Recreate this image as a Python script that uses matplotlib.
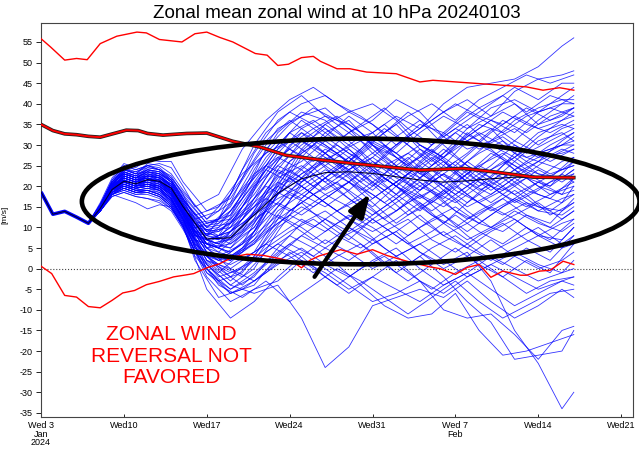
import matplotlib
matplotlib.use('Agg')
import matplotlib.pyplot as plt
from matplotlib.patches import Ellipse

plt.rcParams['font.family'] = ['Liberation Sans', 'DejaVu Sans']

# days since Wed 3 Jan 2024
tick_days = [0, 7, 14, 21, 28, 35, 42, 49]
tick_labels = ['Wed 3\nJan\n2024', 'Wed10', 'Wed17', 'Wed24', 'Wed31',
               'Wed 7\nFeb', 'Wed14', 'Wed21']
y_ticks = list(range(-35, 60, 5))

# analysis part shared by all members
start_days = [0, 1, 2, 3, 4]
start_wind = [18.6, 13.2, 13.9, 12.5, 11.0]

# members read on even days after day 12
member_days = [5, 6, 7, 8, 9, 10, 11, 12, 14, 16, 18, 20, 22, 24, 26, 28,
               30, 32, 34, 36, 38, 40, 42, 44, 45]

members = [
    [15.0, 20.5, 23.0, 22.0, 24.0, 23.5, 21.0, 16.0, 9, 13, 24, 33, 38, 36, 31, 33, 37, 34, 40, 44, 45, 46, 49, 54, 56],
    [14.5, 19.0, 21.0, 20.0, 21.5, 21.0, 19.0, 14.0, 8, 16, 28, 36, 40, 42, 38, 35, 30, 34, 38, 41, 37, 43, 46, 47, 48],
    [15.5, 21.0, 24.5, 23.0, 25.5, 25.0, 23.0, 19.0, 12, 18, 30, 38, 42, 37, 33, 36, 41, 38, 32, 36, 40, 44, 41, 45, 45],
    [14.0, 18.5, 20.0, 19.5, 20.0, 19.5, 17.0, 12.0, 6, 10, 20, 28, 34, 37, 35, 31, 28, 33, 37, 34, 39, 41, 38, 42, 44],
    [15.0, 20.0, 22.5, 21.5, 23.0, 22.0, 20.0, 15.0, 7, 5, 12, 24, 31, 35, 38, 40, 36, 30, 27, 32, 36, 33, 38, 40, 42],
    [14.5, 19.5, 22.0, 21.0, 22.5, 22.5, 20.5, 16.5, 10, 14, 22, 30, 36, 32, 28, 25, 30, 35, 33, 29, 31, 36, 39, 41, 41],
    [16.0, 22.0, 25.5, 24.5, 26.5, 26.0, 26.0, 21.0, 14, 17, 26, 34, 37, 39, 34, 28, 24, 27, 33, 38, 35, 31, 36, 40, 40],
    [14.0, 18.0, 19.5, 18.5, 19.0, 18.0, 16.0, 11.0, 3, 2, 8, 18, 27, 33, 36, 30, 25, 22, 28, 34, 37, 40, 35, 37, 39],
    [15.0, 20.5, 23.5, 22.5, 24.5, 24.0, 22.5, 18.0, 11, 12, 18, 26, 33, 30, 26, 31, 35, 29, 24, 28, 33, 37, 34, 36, 38],
    [14.5, 19.0, 21.5, 20.5, 21.0, 20.5, 18.0, 13.0, 5, 8, 16, 25, 30, 34, 29, 24, 20, 26, 31, 35, 30, 27, 32, 36, 37],
    [15.5, 21.0, 24.0, 23.5, 25.0, 24.0, 21.5, 17.0, 9, 6, 10, 19, 28, 32, 37, 33, 27, 23, 20, 26, 31, 34, 30, 34, 35],
    [14.0, 18.5, 21.0, 20.0, 21.5, 21.5, 19.5, 15.5, 8, 11, 19, 27, 31, 28, 24, 27, 32, 36, 30, 25, 22, 28, 33, 35, 34],
    [15.0, 20.0, 22.0, 21.0, 22.0, 21.0, 19.0, 14.5, 6, 4, 9, 20, 29, 35, 31, 26, 22, 19, 25, 31, 34, 28, 26, 31, 33],
    [14.5, 19.5, 23.0, 22.0, 23.5, 23.0, 21.0, 17.0, 10, 15, 25, 31, 27, 22, 26, 32, 28, 23, 27, 33, 29, 24, 27, 30, 32],
    [15.0, 21.0, 24.0, 23.0, 24.0, 23.0, 20.0, 15.0, 7, 9, 15, 23, 26, 31, 27, 22, 18, 24, 29, 25, 21, 26, 31, 33, 31],
    [14.0, 18.0, 20.5, 19.5, 20.5, 20.0, 18.0, 13.5, 4, 3, 7, 15, 22, 28, 33, 29, 24, 20, 17, 22, 27, 31, 28, 30, 30],
    [15.5, 20.5, 23.5, 22.5, 24.0, 23.5, 21.5, 17.5, 11, 13, 21, 29, 33, 28, 23, 19, 24, 29, 26, 21, 25, 30, 27, 28, 29],
    [14.5, 19.0, 21.0, 20.0, 20.5, 19.5, 17.0, 12.5, 3, -2, 3, 12, 21, 27, 24, 20, 26, 30, 27, 23, 19, 23, 26, 29, 28],
    [15.0, 20.0, 22.5, 21.5, 23.0, 22.5, 20.5, 16.0, 8, 7, 14, 22, 25, 21, 25, 30, 27, 22, 18, 23, 28, 25, 22, 26, 27],
    [14.5, 19.5, 22.0, 21.0, 22.0, 21.5, 19.0, 14.0, 5, 6, 11, 19, 24, 29, 26, 21, 17, 22, 26, 21, 18, 22, 26, 24, 26],
    [15.0, 20.5, 23.0, 22.0, 23.5, 22.5, 20.0, 15.5, 9, 10, 17, 24, 21, 25, 29, 24, 20, 17, 21, 26, 22, 18, 21, 24, 25],
    [14.0, 18.5, 20.0, 19.0, 19.5, 19.0, 16.5, 12.0, 2, 0, 4, 13, 20, 24, 21, 26, 23, 18, 15, 19, 24, 27, 23, 22, 24],
    [15.5, 21.5, 25.0, 24.0, 25.0, 24.5, 22.0, 18.5, 12, 16, 23, 27, 24, 19, 23, 27, 23, 19, 23, 20, 16, 20, 24, 21, 23],
    [14.5, 19.0, 21.5, 20.5, 21.5, 21.0, 19.0, 14.0, 6, 5, 10, 18, 23, 26, 22, 17, 21, 25, 20, 16, 20, 24, 20, 18, 22],
    [15.0, 20.0, 22.0, 21.0, 22.5, 22.0, 20.0, 15.0, 7, 8, 13, 20, 17, 22, 27, 23, 18, 14, 19, 24, 20, 16, 19, 23, 21],
    [14.0, 18.0, 19.0, 18.0, 18.5, 17.5, 15.0, 10.5, 1, -4, 0, 9, 17, 22, 19, 15, 20, 24, 19, 15, 18, 22, 18, 16, 20],
    [15.0, 20.5, 23.5, 22.5, 23.0, 22.0, 19.5, 15.0, 8, 12, 20, 25, 22, 18, 21, 18, 14, 19, 23, 18, 14, 17, 21, 18, 19],
    [14.5, 19.5, 21.0, 20.0, 21.0, 20.0, 17.5, 13.0, 4, 2, 6, 14, 18, 15, 19, 24, 20, 15, 11, 16, 21, 18, 14, 17, 18],
    [15.5, 21.0, 23.0, 22.0, 23.5, 23.0, 21.0, 16.5, 10, 11, 16, 21, 18, 22, 17, 13, 17, 21, 16, 12, 15, 19, 15, 14, 16],
    [14.0, 18.5, 20.5, 19.5, 20.0, 19.0, 16.0, 11.5, 2, -3, 2, 10, 14, 18, 15, 11, 14, 18, 13, 9, 13, 17, 14, 13, 15],
    [15.0, 20.0, 22.5, 21.5, 22.0, 21.0, 18.5, 14.0, 6, 7, 12, 16, 13, 17, 21, 16, 11, 15, 19, 14, 10, 13, 16, 12, 14],
    [14.5, 19.5, 21.5, 20.5, 21.5, 21.0, 18.5, 13.5, 5, 3, 6, 11, 15, 12, 9, 13, 17, 12, 8, 11, 15, 12, 8, 11, 12],
    [15.0, 20.5, 23.0, 22.0, 22.5, 21.5, 19.0, 14.5, 7, 9, 13, 17, 20, 16, 12, 9, 12, 16, 11, 7, 10, 14, 11, 9, 11],
    [14.0, 18.0, 20.0, 19.0, 19.0, 18.0, 15.5, 11.0, 0, -5, -2, 5, 11, 14, 10, 6, 9, 13, 8, 5, 9, 12, 8, 7, 10],
    [14.5, 19.0, 21.0, 20.0, 20.5, 19.5, 17.0, 12.0, 3, 1, 4, 8, 12, 9, 13, 10, 6, 10, 13, 8, 4, 7, 10, 6, 8],
    [15.0, 20.0, 22.0, 21.0, 22.0, 21.5, 19.0, 14.0, 6, 4, 8, 13, 10, 6, 10, 7, 3, 6, 9, 5, 2, 5, 8, 5, 6],
    [14.0, 17.5, 18.5, 17.5, 17.0, 16.0, 14.0, 9.5, -1, -6, -4, 3, 8, 5, 2, 6, 9, 4, 0, 3, 7, 3, 0, 2, 4],
    [14.5, 19.0, 20.5, 19.5, 20.0, 19.5, 17.0, 12.5, 2, -1, 2, 6, 3, 7, 4, 0, 3, 6, 2, -2, 1, 4, 1, -1, 2],
    [15.0, 20.5, 22.0, 21.0, 21.5, 20.5, 18.0, 13.5, 5, 0, -3, 2, 5, 1, -2, 2, 5, 0, -4, -1, 3, 0, -3, -1, 0],
    [14.0, 18.0, 19.5, 18.5, 18.5, 17.5, 15.0, 10.0, -2, -8, -5, -3, 2, -1, -5, -2, 2, -3, -6, -2, 1, -2, -5, -3, -2],
    [14.5, 18.5, 19.5, 18.5, 19.0, 18.0, 15.5, 10.5, -5, -12, -8, -2, 3, -2, -6, -2, -5, -8, -4, -1, -5, -9, -6, -3, -4],
    [15.0, 19.5, 21.0, 20.0, 20.5, 19.5, 17.0, 12.0, 1, -4, -6, -4, -12, -24, -19, -9, -7, -5, -7, -3, -8, -12, -9, -5, -7],
    [14.5, 19.0, 20.5, 19.5, 20.0, 19.0, 16.5, 11.5, 0, -6, -3, 1, 4, 0, -4, -8, -6, -3, -10, -12, -11, -16, -22, -15, -14],
    [14.0, 18.0, 17.0, 16.0, 14.5, 15.5, 15.0, 10.0, -1, -5, -1, 4, 8, 12, 8, 4, -1, 3, -2, -8, -13, -22, -21, -20, -15],
    [15.0, 20.0, 21.5, 20.5, 21.5, 21.0, 18.5, 13.0, 4, 2, 7, 12, 16, 11, 7, 12, 8, 4, 1, 4, -3, -15, -23, -34, -30],
]

# members read on odd days after day 12
member_days_b = [5, 6, 7, 8, 9, 10, 11, 12, 13, 15, 17, 19, 21, 23, 25, 27,
                 29, 31, 33, 35, 37, 39, 41, 43, 45]

members_b = [
    [15.0, 20.0, 24.0, 23.0, 25.0, 25.5, 24.5, 20.0, 15, 18, 29, 36, 41, 44, 40, 37, 33, 37, 40, 36, 41, 44, 47, 45, 47],
    [14.5, 19.5, 22.5, 21.5, 22.5, 22.0, 20.0, 15.5, 10, 12, 24, 33, 38, 35, 31, 35, 39, 34, 30, 35, 39, 42, 38, 42, 40],
    [15.0, 20.5, 23.5, 22.0, 23.5, 23.0, 21.5, 17.0, 11, 8, 17, 29, 35, 39, 36, 32, 28, 32, 36, 40, 37, 35, 39, 36, 39],
    [14.0, 18.5, 20.5, 19.5, 20.5, 20.0, 18.0, 13.0, 7, 5, 13, 25, 33, 36, 32, 28, 33, 38, 34, 30, 34, 38, 35, 33, 36],
    [15.5, 21.0, 24.5, 23.5, 24.5, 24.0, 22.0, 18.0, 12, 14, 22, 31, 36, 32, 28, 31, 35, 30, 26, 30, 35, 33, 37, 39, 37],
    [14.5, 19.0, 21.0, 20.0, 21.0, 20.5, 18.5, 14.0, 8, 6, 12, 22, 30, 34, 37, 33, 27, 23, 28, 33, 29, 32, 28, 31, 34],
    [15.0, 20.0, 22.0, 21.0, 22.5, 22.0, 20.5, 16.0, 9, 10, 18, 27, 33, 29, 25, 29, 34, 30, 25, 29, 33, 30, 26, 30, 33],
    [14.0, 18.0, 19.5, 18.5, 19.0, 18.5, 16.5, 12.0, 5, 2, 6, 16, 26, 31, 28, 23, 27, 32, 28, 24, 28, 31, 27, 29, 31],
    [15.5, 21.5, 25.0, 24.0, 25.0, 24.0, 21.5, 17.0, 13, 15, 23, 28, 31, 27, 22, 26, 30, 26, 21, 25, 30, 27, 23, 27, 30],
    [14.5, 19.5, 22.5, 21.5, 22.0, 21.0, 18.5, 14.0, 9, 7, 15, 24, 29, 26, 30, 26, 21, 25, 29, 24, 20, 25, 29, 26, 29],
    [15.0, 20.0, 21.5, 20.5, 21.0, 20.0, 17.5, 13.0, 8, 4, 9, 19, 26, 30, 26, 21, 25, 28, 24, 21, 25, 28, 24, 22, 27],
    [14.0, 17.5, 18.5, 17.5, 17.0, 16.5, 14.5, 10.5, 4, -1, 4, 14, 22, 27, 23, 19, 23, 27, 22, 18, 22, 26, 22, 20, 26],
    [15.0, 20.5, 23.0, 22.0, 23.0, 22.5, 20.0, 15.5, 10, 11, 17, 24, 21, 25, 28, 23, 19, 23, 27, 23, 19, 22, 26, 23, 25],
    [14.5, 19.0, 21.0, 20.0, 20.5, 20.0, 18.0, 13.5, 7, 5, 10, 17, 24, 20, 24, 28, 22, 18, 22, 26, 21, 19, 23, 20, 24],
    [15.5, 21.0, 23.5, 22.5, 24.0, 23.5, 21.0, 16.5, 11, 12, 19, 25, 22, 18, 22, 26, 23, 19, 16, 21, 25, 22, 18, 21, 23],
    [14.0, 18.5, 20.0, 19.0, 19.5, 19.0, 17.0, 12.0, 5, 1, 5, 13, 19, 23, 19, 15, 19, 23, 19, 16, 20, 23, 19, 17, 22],
    [15.0, 20.0, 22.5, 21.5, 22.0, 21.0, 18.0, 14.0, 8, 9, 14, 20, 17, 21, 25, 20, 16, 20, 24, 19, 16, 19, 22, 18, 21],
    [14.5, 19.5, 21.5, 20.5, 21.5, 21.5, 19.5, 15.0, 9, 8, 12, 18, 22, 18, 14, 18, 22, 18, 14, 18, 22, 18, 15, 18, 20],
    [15.0, 20.5, 22.0, 21.0, 21.5, 20.5, 18.0, 13.5, 7, 3, 6, 12, 18, 15, 19, 23, 18, 13, 16, 20, 16, 13, 16, 14, 18],
    [14.0, 18.0, 19.0, 18.0, 18.0, 17.0, 14.5, 10.0, 3, -3, -1, 7, 14, 18, 14, 10, 14, 18, 13, 10, 14, 17, 13, 11, 17],
    [15.5, 21.0, 24.0, 23.0, 23.5, 22.5, 20.0, 15.5, 10, 9, 13, 17, 14, 18, 21, 16, 12, 16, 19, 14, 11, 15, 18, 13, 16],
    [14.5, 19.0, 20.5, 19.5, 20.0, 19.0, 16.5, 12.0, 6, 2, 4, 9, 13, 10, 14, 17, 12, 8, 12, 15, 11, 9, 13, 10, 14],
    [15.0, 20.0, 22.5, 21.5, 22.5, 22.0, 19.5, 14.5, 8, 6, 9, 14, 11, 7, 11, 14, 10, 6, 9, 13, 9, 6, 10, 7, 12],
    [14.0, 18.5, 20.0, 19.0, 19.0, 18.0, 15.5, 11.0, 4, -2, 0, 5, 9, 12, 8, 5, 9, 12, 7, 4, 8, 11, 7, 4, 10],
    [14.5, 19.5, 21.5, 20.5, 21.0, 20.0, 17.5, 13.0, 6, 0, -4, 1, 6, 3, 7, 10, 5, 1, 5, 8, 4, 1, 5, 2, 8],
    [15.0, 20.5, 23.0, 22.0, 22.5, 21.5, 19.0, 14.5, 9, 5, 2, 6, 3, -1, 3, 6, 1, -3, 1, 5, 1, -2, 2, -1, 6],
    [14.0, 18.0, 19.5, 18.5, 18.5, 17.5, 15.0, 10.5, 2, -7, -5, -1, 4, 0, -4, 0, 3, -1, -5, -1, 2, -2, -6, -3, -2],
    [14.5, 19.0, 20.0, 19.0, 19.5, 18.5, 16.0, 11.5, 4, -4, -7, -3, -8, -4, 0, -3, -7, -11, -7, -3, -8, -12, -9, -6, -5],
    [15.0, 20.0, 21.0, 20.0, 20.5, 19.5, 17.0, 12.5, 5, 1, -2, 4, 8, 5, 1, -4, -9, -12, -11, -6, -15, -21, -20, -18, -16],
    [14.5, 19.5, 22.0, 21.0, 21.5, 21.0, 18.5, 14.0, 8, 7, 11, 16, 20, 24, 28, 32, 29, 25, 30, 34, 31, 36, 33, 37, 39],
]

# ensemble mean (dark line)
mean_days = [0, 1, 2, 3, 4, 5, 6, 7, 8, 9, 10, 11, 12, 14, 16, 18, 20, 22,
             24, 26, 28, 30, 32, 34, 36, 38, 40, 42, 44, 45]
ens_mean = [18.6, 13.2, 13.9, 12.5, 11.0, 14.6, 19.2, 21.2, 20.6, 21.6, 21.2,
            19.5, 15.0, 7.2, 7.5, 13.0, 18.3, 21.8, 23.3, 23.5, 23.1, 22.3,
            21.5, 21.0, 21.3, 21.8, 22.2, 22.0, 21.8, 21.8]

# climatology
clim_max_days = [0, 0.8, 2, 3, 3.9, 5, 6.4, 8.1, 8.9, 10, 11.9, 13, 14, 15.1,
                 16.2, 18.1, 19.1, 20, 20.9, 22, 23, 23.6, 25, 26.1, 27.5, 30,
                 32, 33.1, 36.5, 41, 42.4, 43.8, 45]
clim_max = [55.8, 53.8, 50.6, 51.0, 50.7, 54.6, 56.4, 57.4, 57.2, 55.6, 55.0,
            57.0, 57.4, 56.1, 55.0, 52.2, 51.8, 49.3, 49.6, 51.2, 51.5, 50.3,
            48.5, 48.5, 47.7, 47.3, 45.3, 45.7, 45.0, 44.1, 43.3, 43.9, 43.3]

clim_mean_days = [0, 1, 2, 3, 4, 5, 7.2, 8.2, 9, 10.3, 12.3, 14, 16.2, 18.5,
                  20.7, 23.6, 26.4, 29.2, 32, 35.7, 38.2, 41.6, 45]
clim_mean = [35.0, 33.5, 32.7, 32.5, 32.1, 31.9, 33.6, 33.5, 32.8, 32.4, 32.8,
             32.9, 30.9, 29.5, 27.5, 26.4, 25.5, 24.7, 23.9, 24.3, 23.5, 22.2,
             22.1]

clim_min_days = [0, 0.9, 2, 3, 4, 5, 6, 6.9, 7.9, 8.9, 10, 11.2, 12.3, 12.9,
                 14, 15.1, 16.2, 17.4, 18.8, 20.2, 21.3, 22, 22.7, 23.5, 25.3,
                 26.7, 28, 29.2, 30.9, 32.9, 33.7, 35, 36, 37, 38, 39, 40.5,
                 41, 42.1, 43, 44.1, 45]
clim_min = [0.6, -1.2, -6.5, -6.9, -9.2, -9.5, -7.7, -5.9, -5.3, -3.9, -3.1,
            -2.0, -1.5, -1.2, 0.2, 1.2, 2.8, 3.5, 3.2, 2.4, 1.6, 0.2, 2.0, 3.1,
            4.6, 3.5, 4.6, 3.2, 1.8, 0.4, 0.0, -1.4, 0.3, 1.0, -2.1, -0.6, -1.6,
            -1.6, -0.6, -0.4, 1.8, 1.0]

# ------------------------------------------------------------------------------ #

fig = plt.figure(figsize=(6.39, 4.54), dpi=100)
ax = fig.add_axes([0.0642, 0.0815, 0.9264, 0.8678])

ax.axhline(0, color='#444444', linestyle=':', linewidth=0.8, zorder=1)

for m in members:
    ax.plot(start_days + member_days, start_wind + m, color='#0000ff',
            linewidth=0.6, alpha=0.8, zorder=2)
for m in members_b:
    ax.plot(start_days + member_days_b, start_wind + m, color='#0000ff',
            linewidth=0.6, alpha=0.8, zorder=2)

ax.plot(start_days + [5], start_wind + [14.6], color='#0000ff', linewidth=2.6,
        zorder=3, solid_capstyle='butt')
ax.plot(mean_days, ens_mean, color='#000033', linewidth=0.8, zorder=4)

ax.plot(clim_max_days, clim_max, color='#ff0000', linewidth=1.0, zorder=5)
ax.plot(clim_min_days, clim_min, color='#ff0000', linewidth=1.0, zorder=5)
ax.plot(clim_mean_days, clim_mean, color='#202020', linewidth=2.6, zorder=5)
ax.plot(clim_mean_days, clim_mean, color='#ff0000', linewidth=1.4, zorder=6)

# annotations
ell = Ellipse((27.0, 16.3), 47.1, 30.5, fill=False, edgecolor='black',
              linewidth=3.3, clip_on=False, zorder=8)
ax.add_patch(ell)
ax.annotate('', xy=(27.8, 18.2), xytext=(23.1, -2.0),
            arrowprops=dict(arrowstyle='-|>,head_length=1.4,head_width=0.5',
                            color='black', lw=3, mutation_scale=10,
                            shrinkA=0, shrinkB=0),
            zorder=9)
ax.text(11.0, -21.2, 'ZONAL WIND\nREVERSAL NOT\nFAVORED', color='#ff0000',
        fontsize=15, ha='center', va='center', multialignment='center',
        linespacing=1.14, zorder=9)

ax.set_xlim(0, 50)
ax.set_ylim(-36.0, 59.6)
ax.set_xticks(tick_days)
ax.set_xticklabels(tick_labels, fontsize=6.5, linespacing=0.95)
ax.set_yticks(y_ticks)
ax.set_yticklabels([str(v) for v in y_ticks], fontsize=6.5)
ax.tick_params(axis='x', direction='in', length=2.5, pad=3, width=0.6)
ax.tick_params(axis='y', direction='out', length=3.5, pad=2.5, width=0.6)
for s in ax.spines.values():
    s.set_color('#444444')
    s.set_linewidth(0.8)

ax.set_title('Zonal mean zonal wind at 10 hPa 20240103', fontsize=13.5, pad=3.5)
fig.text(0.008, 1 - 215 / 454, '[m/s]', rotation=90, fontsize=6,
         ha='center', va='center')

plt.savefig('out.png', dpi=100)
